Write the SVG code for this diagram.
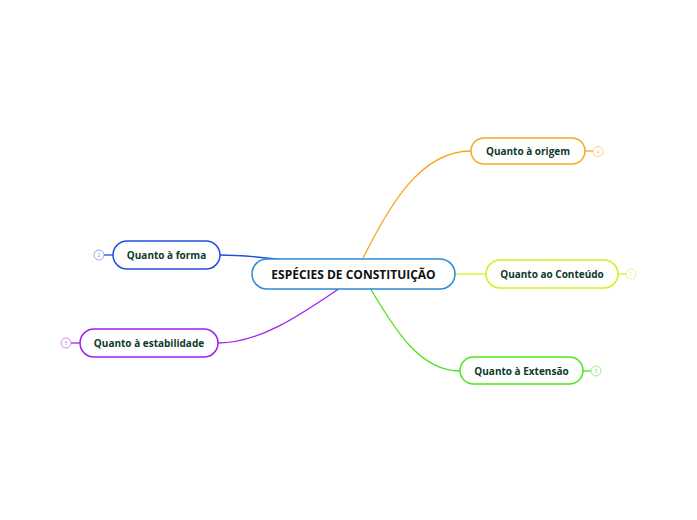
<svg xmlns="http://www.w3.org/2000/svg" width="697" height="520" viewBox="0 0 697 520">
<style>
.n{fill:#fff;stroke-width:1.5}
.t{font-family:"Open Sans","Noto Sans",sans-serif;font-weight:bold;font-size:10px;fill:#0b3a2c;text-anchor:middle;dominant-baseline:central}
.c{font-family:"Open Sans","Noto Sans",sans-serif;font-weight:bold;font-size:12px;fill:#111;text-anchor:middle;dominant-baseline:central}
.b{fill:#fff;stroke-width:0.8}
.bt{font-family:"Open Sans",sans-serif;font-size:5px;text-anchor:middle;dominant-baseline:central}
.l{fill:none;stroke-width:1.3}
</style>
<rect width="697" height="520" fill="#fff"/>
<g id="connectors">
<path class="l" stroke="#f9a61c" d="M362,260 C390,205 420,151 471,151"/>
<path class="l" stroke="#d2f01c" d="M455,274 L486,274"/>
<path class="l" stroke="#4ce41c" d="M370,288 C395,330 420,371 460,371"/>
<path class="l" stroke="#1f4fe0" d="M285,260 C260,257 240,255 220,255"/>
<path class="l" stroke="#a01ef0" d="M340,288 C300,315 260,343 218,343"/>
<path class="l" stroke="#f9a61c" d="M585,151 L593,151"/>
<path class="l" stroke="#d2f01c" d="M618,274 L626,274"/>
<path class="l" stroke="#4ce41c" d="M583,371 L591,371"/>
<path class="l" stroke="#1f4fe0" d="M113,255 L104,255"/>
<path class="l" stroke="#a01ef0" d="M80,343 L71,343"/>
</g>
<g id="central">
<rect class="n" x="252" y="259" width="203" height="30" rx="15" stroke="#2a8ad8"/>
<text class="c" x="353.5" y="274">ESPÉCIES DE CONSTITUIÇÃO</text>
</g>
<g id="origem">
<rect class="n" x="471" y="138" width="114" height="26" rx="13" stroke="#f9a61c"/>
<text class="t" x="528" y="151">Quanto à origem</text>
<circle class="b" cx="598" cy="151.5" r="5" stroke="#f9c060"/>
<text class="bt" x="598" y="151.5" fill="#f9c060">4</text>
</g>
<g id="conteudo">
<rect class="n" x="486" y="260" width="132" height="28" rx="14" stroke="#d2f01c"/>
<text class="t" x="552" y="274">Quanto ao Conteúdo</text>
<circle class="b" cx="631" cy="274" r="5" stroke="#e0f070"/>
<text class="bt" x="631" y="274" fill="#d8ec60">1</text>
</g>
<g id="extensao">
<rect class="n" x="460" y="357" width="123" height="27" rx="13.5" stroke="#4ce41c"/>
<text class="t" x="521.5" y="370.5">Quanto à Extensão</text>
<circle class="b" cx="596" cy="371" r="5" stroke="#80ec70"/>
<text class="bt" x="596" y="371" fill="#70e060">3</text>
</g>
<g id="forma">
<rect class="n" x="113" y="241" width="107" height="28" rx="14" stroke="#1f4fe0"/>
<text class="t" x="166.5" y="255">Quanto à forma</text>
<circle class="b" cx="99" cy="255" r="5" stroke="#7890e8"/>
<text class="bt" x="99" y="255" fill="#7890e8">2</text>
</g>
<g id="estabilidade">
<rect class="n" x="80" y="329" width="138" height="28" rx="14" stroke="#a01ef0"/>
<text class="t" x="149" y="343">Quanto à estabilidade</text>
<circle class="b" cx="66" cy="343" r="5" stroke="#c070f0"/>
<text class="bt" x="66" y="343" fill="#c070f0">5</text>
</g>
</svg>
